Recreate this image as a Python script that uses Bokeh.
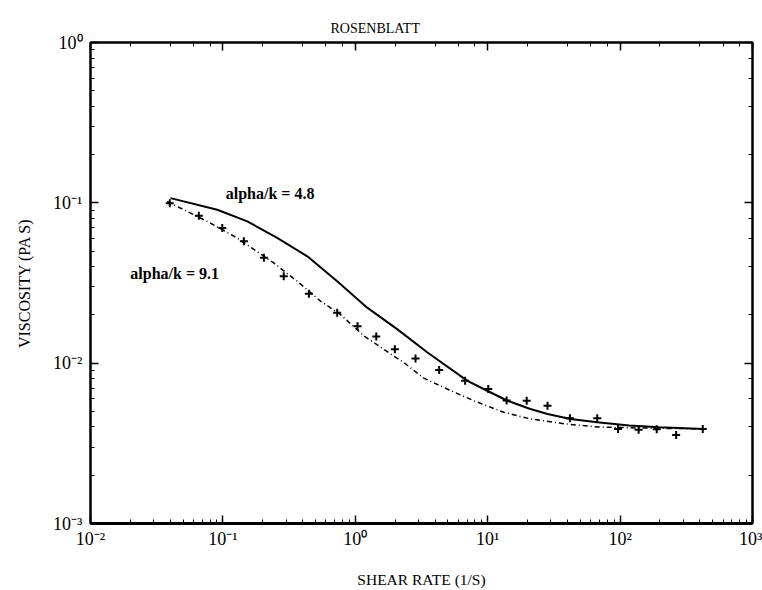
from bokeh.plotting import figure
from bokeh.models import LogAxis, LogTicker, CustomJSTickFormatter, Label
from bokeh.embed import file_html
from bokeh.resources import INLINE

# measured data (shear rate 1/s, viscosity Pa s)
shear_data = [0.0397, 0.0658, 0.0989, 0.144, 0.204, 0.288, 0.446, 0.730, 1.04, 1.44,
              1.99, 2.85, 4.30, 6.75, 10.1, 13.9, 19.7, 28.3, 41.8, 67.2,
              96.4, 138, 189, 265, 421]
visc_data = [0.0995, 0.0830, 0.0697, 0.0575, 0.0454, 0.0349, 0.0271, 0.0206, 0.0170, 0.01465,
             0.01222, 0.01069, 0.00905, 0.00776, 0.00690, 0.00586, 0.00583, 0.00543, 0.00454, 0.00454,
             0.00389, 0.00385, 0.00387, 0.00356, 0.00389]

# model curve alpha/k = 4.8 (solid)
fit48_x = [0.0402, 0.0906, 0.153, 0.257, 0.434, 0.730, 1.23, 2.07, 3.49, 7.03,
           9.91, 14.1, 21.0, 28.3, 42.2, 67.1, 117, 197, 430]
fit48_y = [0.107, 0.0905, 0.0766, 0.0604, 0.0464, 0.0324, 0.0222, 0.0163, 0.0117, 0.00776,
           0.00673, 0.00583, 0.00518, 0.00482, 0.00449, 0.00428, 0.00408, 0.00399, 0.00389]

# model curve alpha/k = 9.1 (dash-dot)
fit91_x = [0.0379, 0.0507, 0.0761, 0.128, 0.242, 0.364, 0.546, 0.773, 1.16, 1.64,
           2.32, 3.29, 4.94, 7.85, 13.2, 21.0, 38.7, 67.1, 144, 430]
fit91_y = [0.102, 0.0905, 0.0766, 0.0604, 0.0422, 0.0324, 0.0244, 0.0201, 0.0148, 0.0122,
           0.0101, 0.00807, 0.00690, 0.00583, 0.00494, 0.00449, 0.00418, 0.00400, 0.00394, 0.00389]

x_tick_labels = ["10\u207b\u00b2", "10\u207b\u00b9", "10\u2070", "10\u00b9", "10\u00b2", "10\u00b3"]
y_tick_labels = ["10\u207b\u00b3", "10\u207b\u00b2", "10\u207b\u00b9", "10\u2070"]

FONT = "Liberation Serif"

p = figure(width=762, height=590, x_axis_type="log", y_axis_type="log",
           x_range=(0.01, 1000), y_range=(0.001, 1),
           output_backend="svg", toolbar_location=None,
           min_border_left=90, min_border_right=10, min_border_top=42, min_border_bottom=65)
p.background_fill_color = "white"
p.border_fill_color = "white"
p.outline_line_color = "black"
p.outline_line_width = 2
p.xgrid.visible = False
p.ygrid.visible = False

p.title.text = "ROSENBLATT"
p.title.text_font = FONT
p.title.text_font_size = "14px"
p.title.text_font_style = "normal"
p.title.text_color = "black"
p.title.align = "left"
p.title.offset = 240
p.title.vertical_align = "top"

xfmt = CustomJSTickFormatter(args=dict(labels=x_tick_labels),
                             code="const e = Math.round(Math.log10(tick)); return labels[e + 2] || '';")
yfmt = CustomJSTickFormatter(args=dict(labels=y_tick_labels),
                             code="const e = Math.round(Math.log10(tick)); return labels[e + 3] || '';")
blank = CustomJSTickFormatter(code="return '';")

def style_axis(ax):
    ax.axis_line_color = "black"
    ax.axis_line_width = 2
    ax.major_tick_in = 8
    ax.major_tick_out = 0
    ax.minor_tick_in = 4
    ax.minor_tick_out = 0
    ax.major_tick_line_width = 1.5
    ax.minor_tick_line_width = 1
    ax.major_label_text_font = FONT
    ax.major_label_text_font_size = "18px"
    ax.major_label_text_color = "black"
    ax.axis_label_text_font = FONT
    ax.axis_label_text_font_style = "normal"
    ax.axis_label_text_color = "black"

xa = p.xaxis[0]
style_axis(xa)
xa.axis_line_width = 3
xa.formatter = xfmt
xa.major_label_standoff = 5
xa.axis_label = "SHEAR RATE (1/S)"
xa.axis_label_text_font_size = "15.5px"
xa.axis_label_standoff = 19

ya = p.yaxis[0]
style_axis(ya)
ya.formatter = yfmt
ya.major_label_standoff = 8
ya.axis_label = "VISCOSITY (PA S)"
ya.axis_label_text_font_size = "16px"
ya.axis_label_standoff = 17

top = LogAxis(ticker=LogTicker(), formatter=blank)
style_axis(top)
top.major_label_standoff = 0
p.add_layout(top, "above")
right = LogAxis(ticker=LogTicker(), formatter=blank)
style_axis(right)
right.major_label_standoff = 0
p.add_layout(right, "right")

p.line(fit48_x, fit48_y, line_color="black", line_width=2)
p.line(fit91_x, fit91_y, line_color="black", line_width=1.5, line_dash="5 3 1 3")
p.scatter(shear_data, visc_data, marker="cross", size=8, line_color="black", line_width=2)

p.add_layout(Label(x=0.105, y=0.115, text="alpha/k = 4.8", text_font=FONT,
                   text_font_size="16px", text_font_style="bold",
                   text_baseline="middle", text_align="left", text_color="black"))
p.add_layout(Label(x=0.020, y=0.0362, text="alpha/k = 9.1", text_font=FONT,
                   text_font_size="16px", text_font_style="bold",
                   text_baseline="middle", text_align="left", text_color="black"))

open("out.html", "w").write(file_html(p, INLINE))
